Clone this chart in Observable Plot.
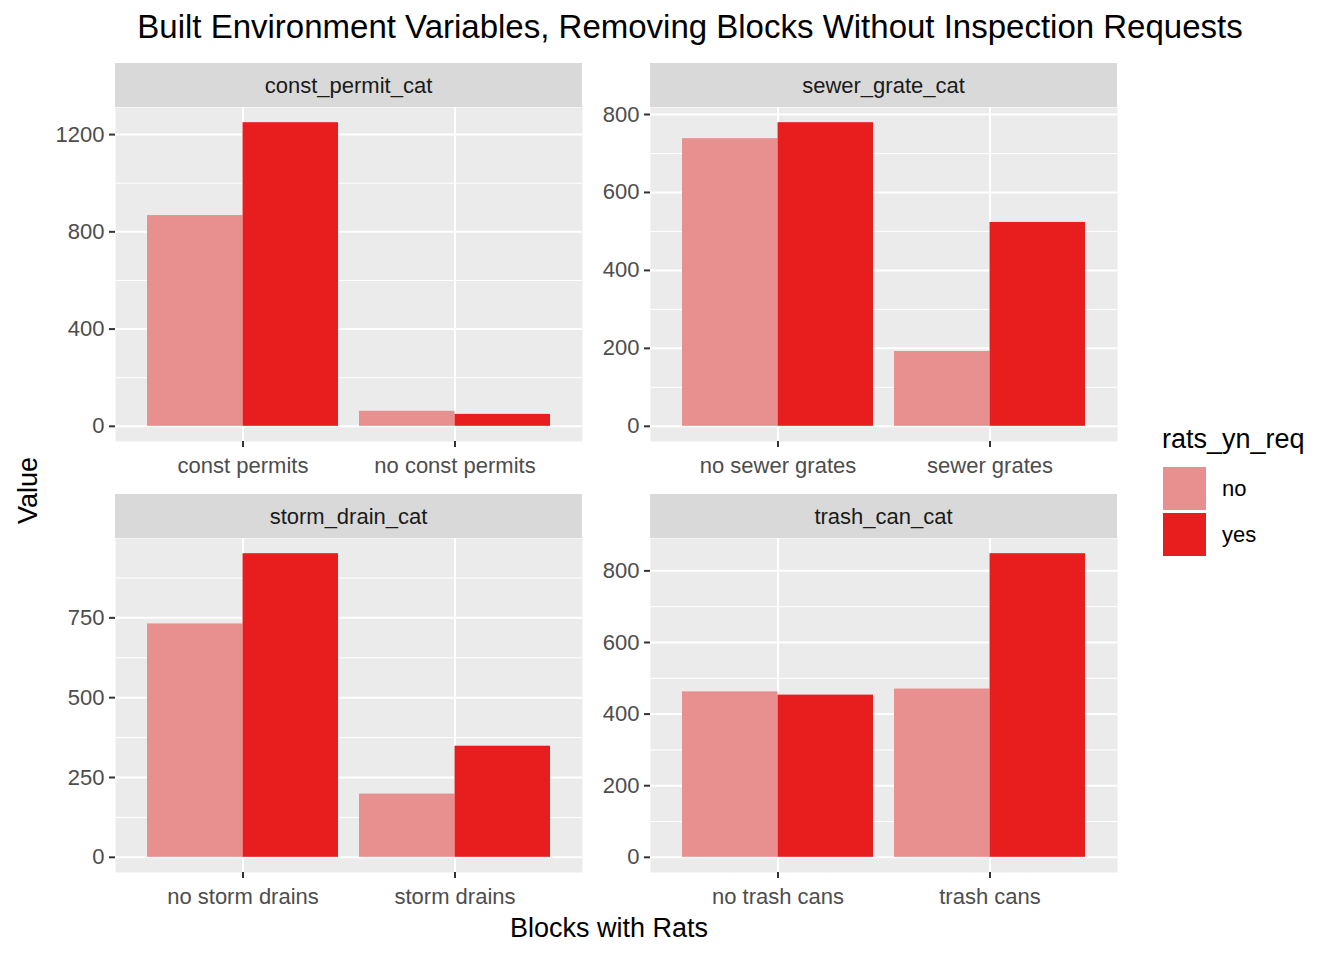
<!DOCTYPE html>
<html><head><meta charset="utf-8">
<script src="https://cdn.jsdelivr.net/npm/d3@7"></script>
<script src="https://cdn.jsdelivr.net/npm/@observablehq/plot@0.6"></script>
<style>
body{margin:0;background:#fff;font-family:"Liberation Sans",Arial,sans-serif;}
#c{position:relative;width:1344px;height:960px;}
.abs{position:absolute;}
.strip{background:#d9d9d9;color:#1a1a1a;font-size:22px;text-align:center;line-height:46px;height:44px;width:467px;}
</style></head><body><div id="c"></div>
<script>
// values
const rats = ["no", "yes"];
const colors = ["#e89090", "#e81e1e"];
const panels = [
  {name: "const_permit_cat", cats: ["const permits", "no const permits"], no: [867, 62], yes: [1249, 49], ticks: [0, 400, 800, 1200]},
  {name: "sewer_grate_cat", cats: ["no sewer grates", "sewer grates"], no: [738, 192], yes: [779, 523], ticks: [0, 200, 400, 600, 800]},
  {name: "storm_drain_cat", cats: ["no storm drains", "storm drains"], no: [731, 198], yes: [951, 348], ticks: [0, 250, 500, 750]},
  {name: "trash_can_cat", cats: ["no trash cans", "trash cans"], no: [462, 470], yes: [453, 848], ticks: [0, 200, 400, 600, 800]}
];
const pos = [[115, 63], [650, 63], [115, 494], [650, 494]];

const c = d3.select("#c");
c.append("div").attr("class","abs").style("left","90px").style("width","1200px").style("top","8px")
  .style("text-align","center").style("font-size","33px").style("color","#000")
  .text("Built Environment Variables, Removing Blocks Without Inspection Requests");
c.append("div").attr("class","abs").style("left","510px").style("top","913px").style("font-size","27px")
  .text("Blocks with Rats");
c.append("div").attr("class","abs").style("left","-12px").style("top","475px").style("font-size","27px")
  .style("transform","rotate(-90deg)").style("width","80px").style("text-align","center").text("Value");
c.append("div").attr("class","abs").style("left","1162px").style("top","424px").style("font-size","27px").text("rats_yn_req");
rats.forEach((r, i) => {
  c.append("div").attr("class","abs").style("left","1163px").style("top", (467 + i*46) + "px")
    .style("width","43px").style("height","43px").style("background", colors[i]);
  c.append("div").attr("class","abs").style("left","1222px").style("top", (476 + i*46) + "px")
    .style("font-size","22px").text(r);
});

const W = 467, H = 334, ML = 75, MB = 44, MT = 12;
const band = W / 2.2 * 0.9;
panels.forEach((p, k) => {
  const [px, py] = pos[k];
  c.append("div").attr("class","abs strip").style("left", px + "px").style("top", py + "px").text(p.name);
  const rows = p.cats.flatMap((cat, j) => [{cat, rats: "no", v: p.no[j]}, {cat, rats: "yes", v: p.yes[j]}]);
  const max = d3.max(rows, d => d.v);
  const step = p.ticks[1] - p.ticks[0];
  const minor = d3.range(step / 2, max * 1.05, step);
  const chart = Plot.plot({
    width: ML + W, height: MT + H + MB, marginLeft: ML, marginRight: 0, marginTop: MT, marginBottom: MB,
    style: {fontFamily: "Liberation Sans, Arial, sans-serif", fontSize: "22px", color: "#4d4d4d", background: "transparent", overflow: "visible"},
    x: {domain: p.cats, paddingInner: 0.1, paddingOuter: 0.15, label: null},
    y: {domain: [-max * 0.05, max * 1.05], label: null},
    marks: [
      Plot.frame({fill: "#ebebeb", stroke: null}),
      Plot.ruleY(minor, {stroke: "#fff", strokeWidth: 1}),
      Plot.gridY(p.ticks, {stroke: "#fff", strokeOpacity: 1, strokeWidth: 2}),
      Plot.gridX(p.cats, {stroke: "#fff", strokeOpacity: 1, strokeWidth: 2}),
      Plot.barY(rows.filter(d => d.rats === "no"), {x: "cat", y: "v", fill: colors[0], insetRight: band / 2, insetLeft: 0}),
      Plot.barY(rows.filter(d => d.rats === "yes"), {x: "cat", y: "v", fill: colors[1], insetLeft: band / 2, insetRight: 0}),
      Plot.axisX({tickSize: 6, tickPadding: 10, stroke: "#333", strokeWidth: 2, fontSize: 22}),
      Plot.axisY(p.ticks, {tickSize: 6, tickPadding: 5, tickFormat: d3.format("d"), stroke: "#333", strokeWidth: 2, fontSize: 22})
    ]
  });
  c.append("div").attr("class","abs").style("left", (px - ML) + "px").style("top", (py + 44 - MT) + "px").node().append(chart);
});
</script></body></html>
